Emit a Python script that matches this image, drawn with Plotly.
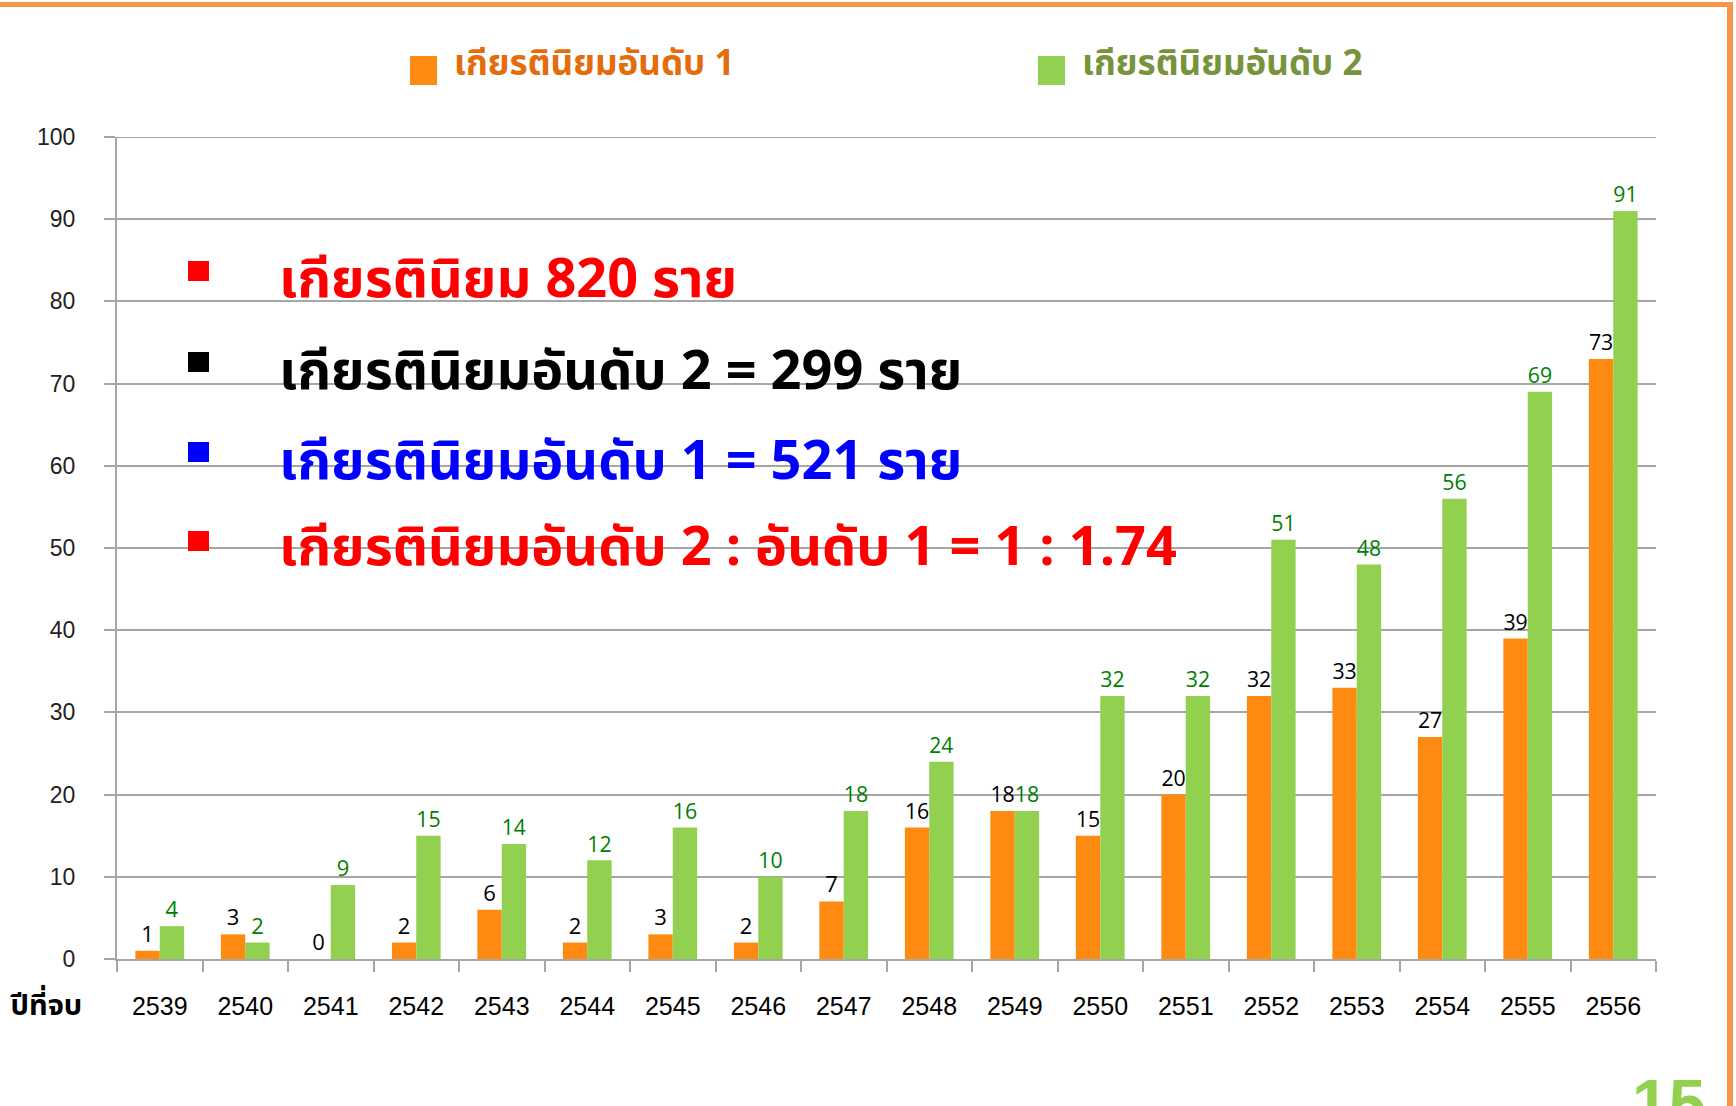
import plotly.graph_objects as go

# ข้อมูลจำนวนผู้สำเร็จการศึกษาเกียรตินิยม แยกตามปีที่จบ
years = ['2539', '2540', '2541', '2542', '2543', '2544', '2545', '2546', '2547',
         '2548', '2549', '2550', '2551', '2552', '2553', '2554', '2555', '2556']
rank1 = [1, 3, 0, 2, 6, 2, 3, 2, 7, 16, 18, 15, 20, 32, 33, 27, 39, 73]
rank2 = [4, 2, 9, 15, 14, 12, 16, 10, 18, 24, 18, 32, 32, 51, 48, 56, 69, 91]

series_names = ['เกียรตินิยมอันดับ 1', 'เกียรตินิยมอันดับ 2']
summary_lines = ['เกียรตินิยม 820 ราย',
                 'เกียรตินิยมอันดับ 2 = 299 ราย',
                 'เกียรตินิยมอันดับ 1 = 521 ราย',
                 'เกียรตินิยมอันดับ 2 : อันดับ 1 = 1 : 1.74']
summary_colors = ['#FF0000', '#000000', '#0000FF', '#FF0000']

W, H = 1736, 1106
L, R, T, B = 117, 1656, 137, 959


def px(x):
    return (x - L) / (R - L)


def py(y):
    return (B - y) / (B - T)


ORANGE = '#FF8A12'
GREEN = '#92D050'
GRID = '#A6A6A6'
THAI = 'Noto Sans Thai, Noto Sans, sans-serif'
NUM = 'Open Sans, Noto Sans, sans-serif'
AXIS_FONT = 'Liberation Sans, Arial, sans-serif'

fig = go.Figure()
fig.add_trace(go.Bar(x=years, y=rank1, name=series_names[0],
                     marker=dict(color=ORANGE, line=dict(width=0)),
                     text=rank1, textposition='outside', cliponaxis=False,
                     textfont=dict(color='#000000', size=22, family=NUM)))
fig.add_trace(go.Bar(x=years, y=rank2, name=series_names[1],
                     marker=dict(color=GREEN, line=dict(width=0)),
                     text=rank2, textposition='outside', cliponaxis=False,
                     textfont=dict(color='#008000', size=22, family=NUM)))

shapes = []
annotations = []

# เส้นกริดบนสุดที่ 100 (plotly ไม่วาดให้ที่ขอบ)
shapes.append(dict(type='line', xref='paper', yref='y', layer='between',
                   x0=px(106), x1=1, y0=100, y1=100, line=dict(color=GRID, width=2)))

# กล่องข้อความสรุป (พื้นขาวทับเส้นกริด)
shapes.append(dict(type='rect', xref='paper', yref='paper', layer='between',
                   x0=px(160), x1=px(1209), y0=py(255), y1=py(600),
                   fillcolor='white', line=dict(width=0)))
bullet_y = [271, 362, 452, 541]
text_y = [280, 372, 463, 548]
for i, line in enumerate(summary_lines):
    shapes.append(dict(type='rect', xref='paper', yref='paper', layer='above',
                       x0=px(188), x1=px(209), y0=py(bullet_y[i] - 10), y1=py(bullet_y[i] + 10),
                       fillcolor=summary_colors[i], line=dict(width=0)))
    annotations.append(dict(text='<b>' + line + '</b>', xref='paper', yref='paper',
                            x=px(277), y=py(text_y[i]), xanchor='left', yanchor='middle',
                            showarrow=False,
                            font=dict(size=54, color=summary_colors[i], family=THAI)))

# คำอธิบายสัญลักษณ์ด้านบน
legend_x = [410, 1038]
legend_colors = [ORANGE, GREEN]
legend_text_colors = ['#E46C0A', '#77933C']
for i in range(2):
    shapes.append(dict(type='rect', xref='paper', yref='paper',
                       x0=px(legend_x[i]), x1=px(legend_x[i] + 27), y0=py(56), y1=py(85),
                       fillcolor=legend_colors[i], line=dict(width=0)))
    annotations.append(dict(text='<b>' + series_names[i] + '</b>', xref='paper', yref='paper',
                            x=px(legend_x[i] + 42), y=py(64), xanchor='left', yanchor='middle',
                            showarrow=False,
                            font=dict(size=35, color=legend_text_colors[i], family=THAI)))

# ชื่อแกน x
annotations.append(dict(text='<b>ปีที่จบ</b>', xref='paper', yref='paper',
                        x=px(46), y=py(1006), xanchor='center', yanchor='middle',
                        showarrow=False, font=dict(size=29, color='black', family=THAI)))

# เลขหน้า (ถูกตัดที่ขอบล่างเหมือนในสไลด์ต้นฉบับ)
annotations.append(dict(text='<b>15</b>', xref='paper', yref='paper',
                        x=px(1630), y=py(1064), xanchor='left', yanchor='top',
                        showarrow=False, font=dict(size=66, color=GREEN, family=AXIS_FONT)))

# กรอบสีส้มของสไลด์
shapes.append(dict(type='rect', xref='paper', yref='paper', layer='above',
                   x0=px(0), x1=px(1733), y0=py(2), y1=py(7),
                   fillcolor='#F79646', line=dict(width=0)))
shapes.append(dict(type='rect', xref='paper', yref='paper', layer='above',
                   x0=px(1727), x1=px(1733), y0=py(2), y1=py(1110),
                   fillcolor='#F79646', line=dict(width=0)))

fig.update_layout(
    width=W, height=H,
    margin=dict(l=L, r=W - R, t=T, b=H - B, pad=0),
    paper_bgcolor='white', plot_bgcolor='white',
    showlegend=False,
    barmode='group', bargap=0.43, bargroupgap=0,
    shapes=shapes, annotations=annotations,
    xaxis=dict(type='category', showline=True, linecolor=GRID, linewidth=2,
               ticks='outside', tickson='boundaries', ticklen=11, tickcolor=GRID, tickwidth=2,
               showgrid=False, ticklabelstandoff=24,
               tickfont=dict(size=25, color='black', family=AXIS_FONT)),
    yaxis=dict(range=[0, 100], dtick=10, showline=True, linecolor=GRID, linewidth=2,
               ticks='outside', ticklen=11, tickcolor=GRID, tickwidth=2,
               showgrid=True, gridcolor=GRID, gridwidth=2, zeroline=False,
               ticklabelstandoff=24,
               tickfont=dict(size=23, color='#222222', family=AXIS_FONT)),
)

# ตัดระยะขอบของหน้าเว็บออก ให้กราฟชิดมุมบนซ้าย
fig.write_html("out.html", config={'displayModeBar': False},
               post_script="document.body.style.margin='0';")
